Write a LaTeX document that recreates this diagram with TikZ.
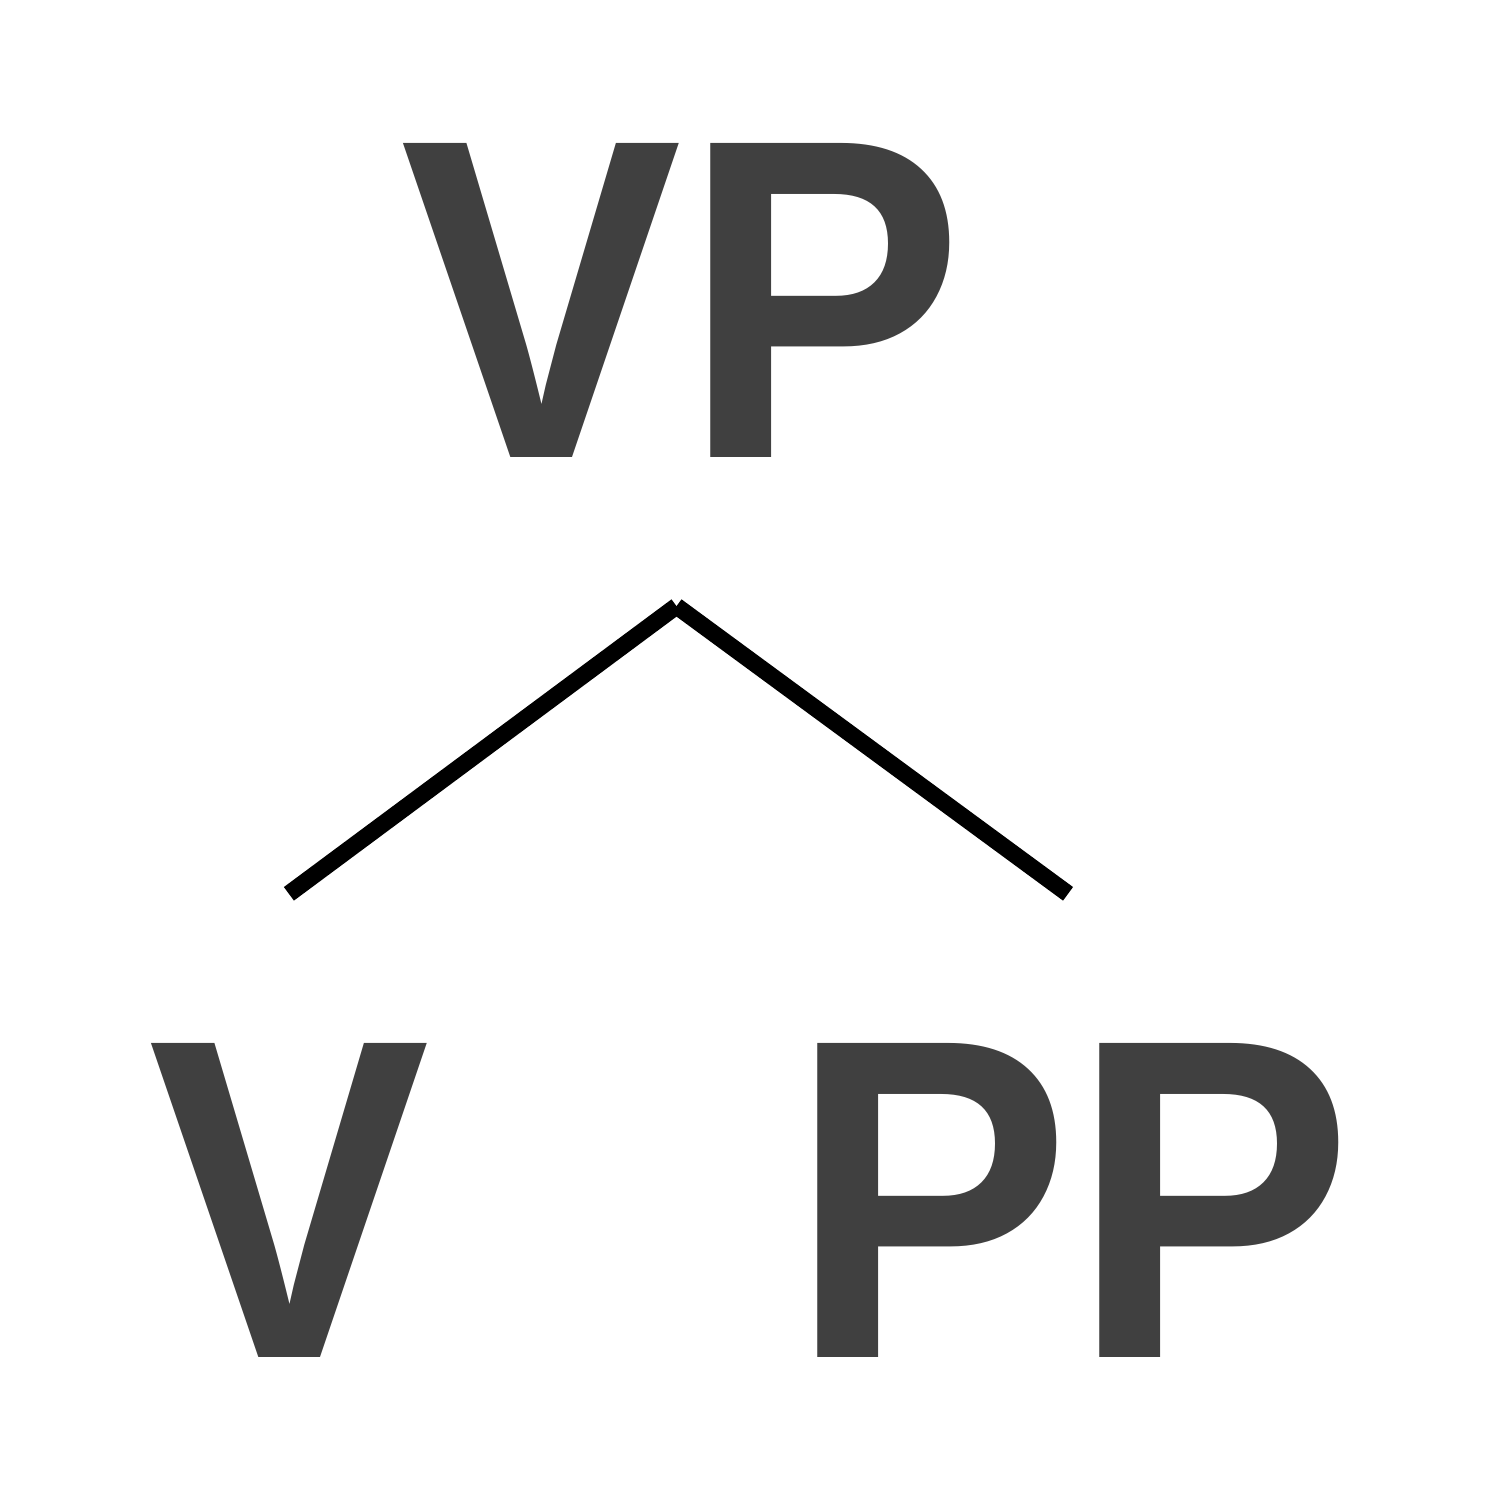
\documentclass[tikz,border=0pt]{standalone}
\usepackage{fontspec}
\setmainfont[FakeStretch=0.925]{Liberation Sans}
\usepackage{xcolor}
\usepackage{tikz}

\begin{document}
\begin{tikzpicture}[cat/.style={inner sep=0pt,text=black!75,font=\fontsize{43.3}{47}\selectfont\bfseries},
  branch/.style={draw=black,line width=1.6pt}]
  \useasboundingbox (0,0) rectangle (5,5);
  \node[cat] (vp) at (2.275,4.0) {VP};
  \node[cat] (v) at (0.963,1.0) {V};
  \node[cat] (pp) at (3.57,1.0) {PP};
  \coordinate (top) at ([xshift=-0.02cm,yshift=-0.49cm]vp.south);
  \coordinate (vtop) at ([yshift=0.49cm]v.north);
  \coordinate (pptop) at ([xshift=-0.01cm,yshift=0.49cm]pp.north);
  % two branches, meeting under VP
  \draw[branch] (top) -- (vtop);
  \draw[branch] (top) -- (pptop);
\end{tikzpicture}
\end{document}
